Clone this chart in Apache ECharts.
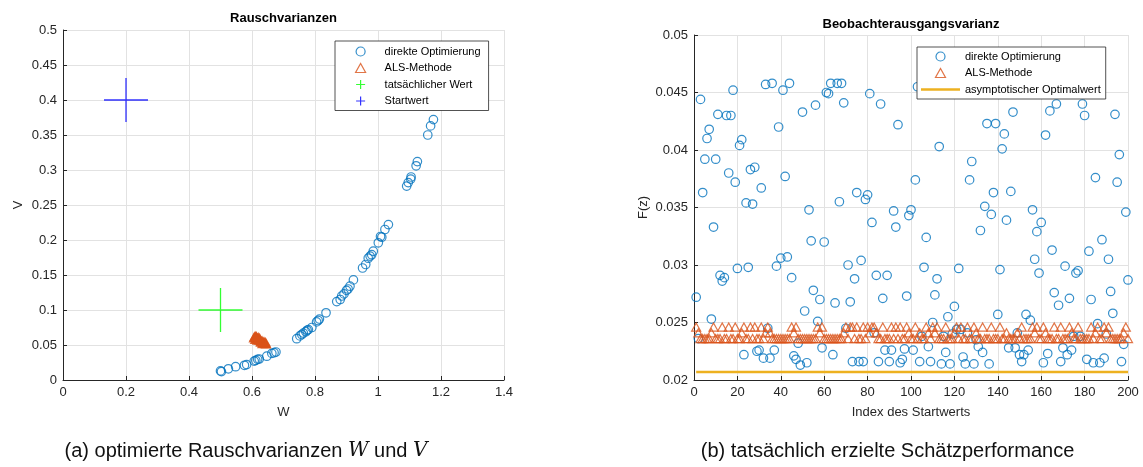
<!DOCTYPE html>
<html>
<head>
<meta charset="utf-8">
<script src="https://cdn.jsdelivr.net/npm/echarts@6/dist/echarts.min.js"></script>
<style>
html,body{margin:0;padding:0;background:#fff;}
#main{width:1143px;height:467px;}
</style>
</head>
<body>
<div id="main"></div>
<script>
// ---------- (a) Rauschvarianzen ----------
const directW = [0.500,0.503,0.525,0.548,0.576,0.583,0.607,0.612,0.618,0.623,0.647,0.663,0.670,0.676,
  0.742,0.752,0.758,0.763,0.771,0.775,0.779,0.790,0.805,0.810,0.814,0.835,0.869,0.880,0.885,0.892,0.900,0.905,0.911,0.922,
  0.951,0.961,0.969,0.975,0.980,0.985,1.001,1.008,1.012,1.022,1.033,
  1.091,1.096,1.104,1.105,1.121,1.125,1.158,1.167,1.176];
const directV = [0.013,0.012,0.016,0.019,0.021,0.022,0.027,0.028,0.0295,0.030,0.034,0.038,0.039,0.040,
  0.059,0.063,0.065,0.067,0.069,0.071,0.072,0.075,0.083,0.085,0.087,0.096,0.112,0.115,0.120,0.123,0.128,0.130,0.134,0.143,
  0.160,0.165,0.174,0.177,0.179,0.184,0.196,0.205,0.204,0.215,0.222,
  0.277,0.282,0.287,0.290,0.306,0.312,0.350,0.363,0.372];
const alsW = [0.606,0.608,0.612,0.615,0.618,0.620,0.622,0.625,0.627,0.630,0.632,0.635,0.637,0.640,0.642,0.645,
  0.612,0.610,0.628,0.638,0.633,0.620,0.643,0.617,0.624,0.614];
const alsV = [0.060,0.062,0.061,0.059,0.060,0.058,0.057,0.058,0.056,0.055,0.056,0.054,0.053,0.053,0.052,0.0515,
  0.063,0.058,0.054,0.055,0.052,0.061,0.054,0.057,0.060,0.062];
const trueW = [0.5], trueV = [0.1];
const startW = [0.2], startV = [0.4];

// ---------- (b) Beobachterausgangsvarianz ----------
const startIndex = Array.from({length: 200}, (_, i) => i + 1);
const fDirect = [
 .0272,.0236,.0444,.0363,.0392,.0410,.0418,.0253,.0333,.0392,
 .0431,.0291,.0286,.0289,.0430,.0380,.0430,.0452,.0372,.0297,
 .0404,.0409,.0222,.0354,.0298,.0383,.0353,.0385,.0225,.0226,
 .0367,.0219,.0457,.0245,.0219,.0458,.0226,.0299,.0420,.0306,
 .0452,.0377,.0307,.0458,.0289,.0221,.0218,.0232,.0213,.0433,
 .0260,.0215,.0348,.0321,.0278,.0439,.0251,.0270,.0228,.0320,
 .0450,.0449,.0458,.0222,.0267,.0458,.0355,.0458,.0441,.0245,
 .0300,.0268,.0216,.0288,.0363,.0216,.0304,.0216,.0357,.0361,
 .0449,.0337,.0241,.0291,.0216,.0440,.0271,.0226,.0291,.0216,
 .0226,.0347,.0333,.0422,.0215,.0218,.0227,.0273,.0343,.0348,
 .0226,.0374,.0455,.0216,.0238,.0298,.0324,.0229,.0216,.0250,
 .0274,.0288,.0403,.0214,.0238,.0224,.0255,.0214,.0240,.0264,
 .0244,.0297,.0244,.0220,.0214,.0241,.0374,.0390,.0214,.0235,
 .0229,.0330,.0224,.0351,.0423,.0214,.0344,.0363,.0423,.0257,
 .0296,.0401,.0414,.0339,.0228,.0364,.0433,.0228,.0241,.0222,
 .0216,.0222,.0257,.0226,.0252,.0348,.0305,.0329,.0293,.0337,
 .0215,.0413,.0223,.0434,.0313,.0276,.0440,.0265,.0216,.0228,
 .0299,.0222,.0271,.0226,.0238,.0293,.0295,.0238,.0440,.0430,
 .0218,.0312,.0270,.0215,.0376,.0249,.0215,.0322,.0219,.0240,
 .0305,.0277,.0258,.0431,.0372,.0396,.0216,.0231,.0346,.0287];
const fALS = [
 .0246,.0241,.0236,.0236,.0236,.0236,.0236,.0241,.0246,.0236,
 .0236,.0236,.0246,.0236,.0236,.0246,.0236,.0236,.0246,.0236,
 .0236,.0241,.0246,.0236,.0236,.0246,.0236,.0246,.0236,.0236,
 .0246,.0236,.0241,.0246,.0241,.0236,.0236,.0236,.0236,.0236,
 .0236,.0236,.0236,.0236,.0246,.0241,.0246,.0236,.0236,.0236,
 .0236,.0236,.0236,.0236,.0236,.0236,.0246,.0241,.0246,.0236,
 .0236,.0236,.0236,.0236,.0236,.0236,.0236,.0236,.0241,.0246,
 .0236,.0246,.0246,.0236,.0246,.0236,.0236,.0246,.0236,.0246,
 .0241,.0246,.0246,.0241,.0236,.0236,.0246,.0236,.0236,.0236,
 .0246,.0236,.0246,.0236,.0246,.0236,.0236,.0246,.0241,.0236,
 .0236,.0246,.0236,.0241,.0236,.0236,.0246,.0241,.0236,.0246,
 .0241,.0246,.0236,.0236,.0236,.0246,.0236,.0236,.0236,.0241,
 .0246,.0236,.0246,.0236,.0236,.0246,.0236,.0236,.0246,.0241,
 .0236,.0236,.0246,.0236,.0236,.0236,.0246,.0236,.0236,.0236,
 .0246,.0236,.0236,.0241,.0236,.0236,.0236,.0236,.0241,.0236,
 .0246,.0236,.0236,.0236,.0236,.0246,.0241,.0246,.0236,.0236,
 .0246,.0241,.0236,.0236,.0236,.0246,.0236,.0236,.0246,.0236,
 .0236,.0236,.0246,.0241,.0236,.0236,.0246,.0236,.0236,.0236,
 .0236,.0236,.0246,.0236,.0241,.0246,.0236,.0236,.0246,.0241,
 .0246,.0236,.0236,.0236,.0236,.0236,.0236,.0241,.0246,.0236];
const asymIndex = [1, 200];
const asymValue = [0.0207, 0.0207];

const FONT = 'Liberation Sans';
const AX = '#262626';
const PLUS = 'path://M0,-22L0,22M-22,0L22,0';
const TRI = 'path://M0,0L10,0L5,-9Z';
const LINEICON = 'path://M0,0L40,0L40,2.5L0,2.5Z';

function axisCommon(extra) {
  return Object.assign({
    type: 'value',
    axisLine: { show: true, onZero: false, lineStyle: { color: AX, width: 1 } },
    axisTick: { show: true, inside: true, length: 4, lineStyle: { color: AX } },
    splitLine: { show: true, lineStyle: { color: '#e2e2e2', width: 1 } },
    axisLabel: { color: AX, fontSize: 13, fontFamily: FONT, margin: 6 },
    nameLocation: 'middle',
    nameTextStyle: { color: AX, fontSize: 13, fontFamily: FONT }
  }, extra);
}

const zip = (a, b) => a.map((v, i) => [v, b[i]]);
const hollow = c => ({ color: 'rgba(0,0,0,0)', borderColor: c, borderWidth: 1.2 });

const option = {
  animation: false,
  backgroundColor: '#fff',
  grid: [
    { left: 63, top: 30, width: 441, height: 350 },
    { left: 694, top: 35, width: 434, height: 345 }
  ],
  xAxis: [
    axisCommon({ gridIndex: 0, min: 0, max: 1.4, interval: 0.2, name: 'W', nameGap: 26 }),
    axisCommon({ gridIndex: 1, min: 0, max: 200, interval: 20, name: 'Index des Startwerts', nameGap: 26 })
  ],
  yAxis: [
    axisCommon({ gridIndex: 0, min: 0, max: 0.5, interval: 0.05, name: 'V', nameGap: 38 }),
    axisCommon({ gridIndex: 1, min: 0.02, max: 0.05, interval: 0.005, name: 'F(z)', nameGap: 44 })
  ],
  legend: [
    {
      left: 335, top: 41, orient: 'vertical', selectedMode: false,
      itemWidth: 38, itemHeight: 9, itemGap: 5.5, padding: [5, 8, 4, 20],
      borderColor: AX, borderWidth: 0.8, backgroundColor: '#fff',
      textStyle: { fontSize: 11, color: '#000', fontFamily: FONT },
      data: [
        { name: 'direkte Optimierung', icon: 'circle', itemStyle: hollow('#0072BD') },
        { name: 'ALS-Methode', icon: TRI, itemStyle: hollow('#D95319') },
        { name: 'tatsächlicher Wert', icon: PLUS, itemStyle: hollow('#00FF00') },
        { name: 'Startwert', icon: PLUS, itemStyle: hollow('#0000FF') }
      ]
    },
    {
      left: 917, top: 47, orient: 'vertical', selectedMode: false,
      itemWidth: 39, itemHeight: 9, itemGap: 5.5, padding: [4, 5, 4, 4],
      borderColor: AX, borderWidth: 0.8, backgroundColor: '#fff',
      textStyle: { fontSize: 11, color: '#000', fontFamily: FONT },
      data: [
        { name: 'direkte Optimierung', icon: 'circle', itemStyle: hollow('#0072BD') },
        { name: 'ALS-Methode', icon: TRI, itemStyle: hollow('#D95319') },
        { name: 'asymptotischer Optimalwert', icon: LINEICON, itemStyle: { color: '#EDB120', borderWidth: 0 } }
      ]
    }
  ],
  graphic: [
    { type: 'text', x: 283.5, y: 18, style: { text: 'Rauschvarianzen', fontSize: 13, fontWeight: 'bold', fontFamily: FONT, fill: '#000', align: 'center', verticalAlign: 'middle' } },
    { type: 'text', x: 911, y: 24, style: { text: 'Beobachterausgangsvarianz', fontSize: 13, fontWeight: 'bold', fontFamily: FONT, fill: '#000', align: 'center', verticalAlign: 'middle' } },
    { type: 'text', x: 246, y: 451, style: { text: '(a) optimierte Rauschvarianzen {i|W} und {i|V}', fontSize: 20, fontFamily: FONT, fill: '#111', align: 'center', verticalAlign: 'middle',
        rich: { i: { fontSize: 20, fontFamily: 'DejaVu Serif', fontStyle: 'italic', fill: '#111' } } } },
    { type: 'text', x: 887.5, y: 451, style: { text: '(b) tatsächlich erzielte Schätzperformance', fontSize: 20, fontFamily: FONT, fill: '#111', align: 'center', verticalAlign: 'middle' } }
  ],
  series: [
    { name: 'direkte Optimierung', type: 'scatter', xAxisIndex: 0, yAxisIndex: 0, data: zip(directW, directV),
      symbol: 'circle', symbolSize: 8.5, itemStyle: hollow('#0072BD') },
    { name: 'ALS-Methode', type: 'scatter', xAxisIndex: 0, yAxisIndex: 0, data: zip(alsW, alsV),
      symbol: 'triangle', symbolSize: [9, 8], itemStyle: { color: '#D95319', borderColor: '#D95319', borderWidth: 1.2 } },
    { name: 'tatsächlicher Wert', type: 'scatter', xAxisIndex: 0, yAxisIndex: 0, data: zip(trueW, trueV),
      symbol: PLUS, symbolSize: 44, itemStyle: { color: 'rgba(0,0,0,0)', borderColor: '#00FF00', borderWidth: 1.3 } },
    { name: 'Startwert', type: 'scatter', xAxisIndex: 0, yAxisIndex: 0, data: zip(startW, startV),
      symbol: PLUS, symbolSize: 44, itemStyle: { color: 'rgba(0,0,0,0)', borderColor: '#0000FF', borderWidth: 1.3 } },

    { name: 'direkte Optimierung', type: 'scatter', xAxisIndex: 1, yAxisIndex: 1, data: zip(startIndex, fDirect),
      symbol: 'circle', symbolSize: 8.5, itemStyle: hollow('#0072BD') },
    { name: 'ALS-Methode', type: 'scatter', xAxisIndex: 1, yAxisIndex: 1, data: zip(startIndex, fALS),
      symbol: 'triangle', symbolSize: [9, 8], itemStyle: hollow('#D95319') },
    { name: 'asymptotischer Optimalwert', type: 'line', xAxisIndex: 1, yAxisIndex: 1, data: zip(asymIndex, asymValue),
      symbol: 'none', showSymbol: false, lineStyle: { color: '#EDB120', width: 2.5 }, itemStyle: { color: '#EDB120' } }
  ]
};

const chart = echarts.init(document.getElementById('main'), null, { renderer: 'canvas' });
chart.setOption(option);
</script>
</body>
</html>
